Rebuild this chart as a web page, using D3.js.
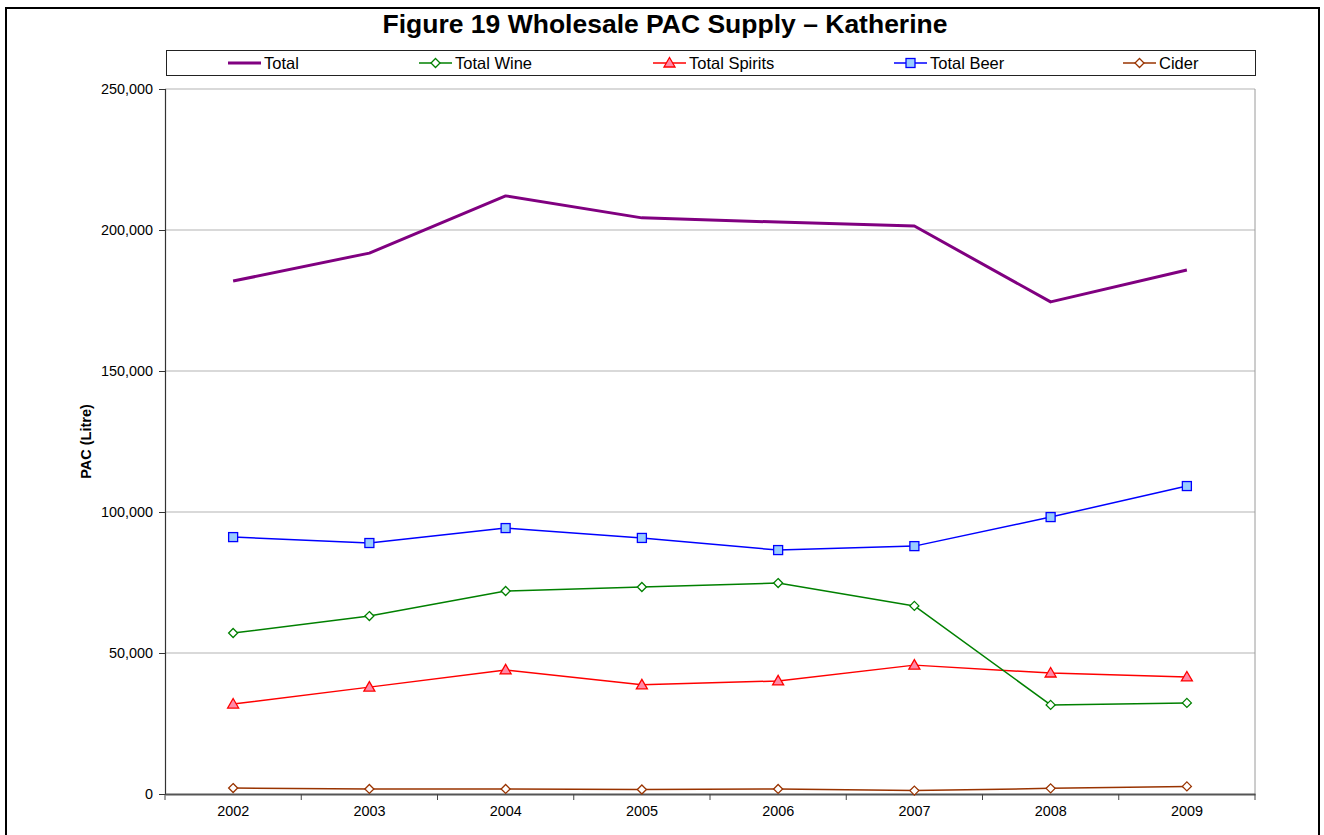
<!DOCTYPE html>
<html>
<head>
<meta charset="utf-8">
<script src="https://cdn.jsdelivr.net/npm/d3@7"></script>
<style>
  html, body { margin: 0; padding: 0; background: #fff; }
  svg { display: block; font-family: "Liberation Sans", Arial, sans-serif; }
</style>
</head>
<body>
<svg id="chart" width="1324" height="835"></svg>
<script>
const years = ["2002", "2003", "2004", "2005", "2006", "2007", "2008", "2009"];
const total    = [181900, 191800, 212100, 204300, 202800, 201400, 174500, 185800];
const wine     = [57100, 63100, 72000, 73400, 74800, 66700, 31600, 32300];
const spirits  = [31900, 37900, 44000, 38700, 40100, 45700, 42900, 41500];
const beer     = [91100, 89000, 94300, 90800, 86500, 87900, 98200, 109200];
const cider    = [2100, 1800, 1800, 1600, 1800, 1200, 2000, 2700];
const yTicks   = [0, 50000, 100000, 150000, 200000, 250000];

const series = [
  { name: "Total",        values: total,   color: "#800080", width: 3,   marker: null },
  { name: "Total Wine",   values: wine,    color: "#008000", width: 1.5, marker: "diamond", fill: "#ffffff" },
  { name: "Total Spirits",values: spirits, color: "#ff0000", width: 1.5, marker: "triangle", fill: "#ff8aa8" },
  { name: "Total Beer",   values: beer,    color: "#0000ff", width: 1.5, marker: "square", fill: "#99ccff" },
  { name: "Cider",        values: cider,   color: "#993300", width: 1.5, marker: "diamond", fill: "#ffffff" }
];

const svg = d3.select("#chart");
const m = { left: 165, right: 1255, top: 89, bottom: 794 };
const FONT = "'Liberation Sans', Arial, sans-serif";

// outer frame
svg.append("rect").attr("x", 6).attr("y", 8).attr("width", 1313).attr("height", 835)
  .attr("fill", "#fff").attr("stroke", "#000").attr("stroke-width", 2);

// title
svg.append("text").attr("x", 665).attr("y", 33).attr("text-anchor", "middle")
  .attr("font-size", 26.5).attr("font-weight", "bold").text("Figure 19 Wholesale PAC Supply \u2013 Katherine");

const x = d3.scaleBand().domain(years).range([m.left, m.right]).paddingInner(0).paddingOuter(0);
const y = d3.scaleLinear().domain([0, 250000]).range([m.bottom, m.top]);
const cx = d => x(d) + x.bandwidth() / 2;

// gridlines
svg.append("g").selectAll("line").data(yTicks.filter(t => t > 0)).join("line")
  .attr("x1", m.left).attr("x2", m.right)
  .attr("y1", d => y(d)).attr("y2", d => y(d))
  .attr("stroke", "#b3b3b3").attr("stroke-width", 1);

// right border of plot
svg.append("line").attr("x1", m.right).attr("x2", m.right).attr("y1", m.top).attr("y2", m.bottom)
  .attr("stroke", "#9a9a9a").attr("stroke-width", 1);

// y axis
const yAxis = d3.axisLeft(y).tickValues(yTicks).tickSize(6).tickPadding(6)
  .tickFormat(d3.format(","));
const gy = svg.append("g").attr("transform", `translate(${m.left},0)`).call(yAxis);
gy.select(".domain").attr("stroke", "#333").attr("stroke-width", 1.2);
gy.selectAll(".tick line").attr("stroke", "#333");
gy.selectAll("text").attr("font-size", 14.4).attr("fill", "#000").attr("font-family", FONT);

// x axis
const xAxis = d3.axisBottom(x).tickSize(0).tickPadding(12);
const gx = svg.append("g").attr("transform", `translate(0,${m.bottom})`).call(xAxis);
gx.select(".domain").attr("stroke", "#555").attr("stroke-width", 2);
gx.selectAll("text").attr("font-size", 14.4).attr("fill", "#000").attr("font-family", FONT);
// category boundary ticks
const bounds = years.map(d => x(d)).concat([m.right]);
svg.append("g").selectAll("line").data(bounds).join("line")
  .attr("x1", d => d).attr("x2", d => d)
  .attr("y1", m.bottom).attr("y2", m.bottom + 6)
  .attr("stroke", "#444").attr("stroke-width", 1);

// y axis label
svg.append("text").attr("transform", `translate(91,${(m.top + m.bottom) / 2}) rotate(-90)`)
  .attr("text-anchor", "middle").attr("font-size", 14.5).attr("font-weight", "bold")
  .text("PAC (Litre)");

function drawMarker(g, type, color, fill) {
  if (type === "diamond") {
    g.append("path").attr("d", "M0,-4.5L4.5,0L0,4.5L-4.5,0Z")
      .attr("fill", fill).attr("stroke", color).attr("stroke-width", 1.3);
  } else if (type === "triangle") {
    g.append("path").attr("d", "M0,-5.5L5.5,4L-5.5,4Z")
      .attr("fill", fill).attr("stroke", color).attr("stroke-width", 1.3);
  } else if (type === "square") {
    g.append("rect").attr("x", -4.5).attr("y", -4.5).attr("width", 9).attr("height", 9)
      .attr("fill", fill).attr("stroke", color).attr("stroke-width", 1.3);
  }
}

const line = d3.line().x((d, i) => cx(years[i])).y(d => y(d));
const drawOrder = [4, 2, 1, 3, 0];
drawOrder.forEach(si => {
  const s = series[si];
  const g = svg.append("g");
  g.append("path").datum(s.values).attr("d", line)
    .attr("fill", "none").attr("stroke", s.color).attr("stroke-width", s.width)
    .attr("stroke-linejoin", "round");
  if (s.marker) {
    s.values.forEach((v, i) => {
      const mg = g.append("g").attr("transform", `translate(${cx(years[i])},${y(v)})`);
      drawMarker(mg, s.marker, s.color, s.fill);
    });
  }
});

// legend
svg.append("rect").attr("x", 166.5).attr("y", 50.5).attr("width", 1089).attr("height", 25)
  .attr("fill", "#fff").attr("stroke", "#222").attr("stroke-width", 1);
const legendX = [228, 419, 653, 894, 1123];
series.forEach((s, i) => {
  const g = svg.append("g").attr("transform", `translate(${legendX[i]},63)`);
  g.append("line").attr("x1", 0).attr("x2", 33).attr("y1", 0).attr("y2", 0)
    .attr("stroke", s.color).attr("stroke-width", s.width);
  if (s.marker) {
    const mg = g.append("g").attr("transform", "translate(16.5,0)");
    drawMarker(mg, s.marker, s.color, s.fill);
  }
  g.append("text").attr("x", 36).attr("y", 6).attr("font-size", 16.5).text(s.name);
});
</script>
</body>
</html>
